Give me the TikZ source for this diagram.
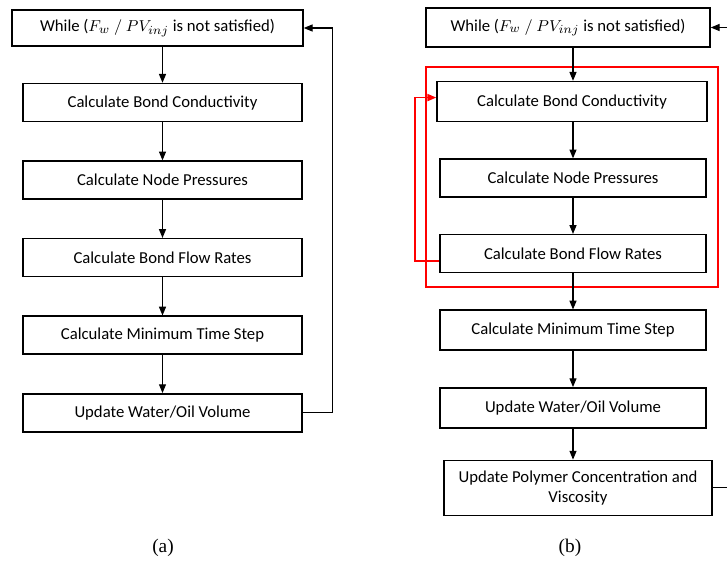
\documentclass[tikz,border=0pt]{standalone}
\usepackage{fontspec}
\setmainfont{Carlito}
\newfontfamily\capfont{Liberation Serif}
\usetikzlibrary{positioning,fit,arrows.meta}

\begin{document}
\begin{tikzpicture}[
    x=0.02cm, y=-0.02cm,
    node distance=0.76cm,
    box/.style={rectangle, draw, line width=0.9pt, minimum width=5.58cm, minimum height=0.76cm, align=center, font=\fontsize{9.5}{11}\selectfont},
    arrow/.style={-{Triangle[length=5pt,width=4pt]}, line width=0.6pt},
    caption/.style={font=\capfont\fontsize{11}{13}\selectfont}
]
    \useasboundingbox (0,0) rectangle (727,565);

    % Left chart (a)
    \node[box, minimum width=5.82cm, minimum height=0.72cm] (whileA) at (157.5,28) {While ($F_w\ /\ PV_{inj}$ is not satisfied)};
    \node[box, below=0.72cm of whileA.south, anchor=north, xshift=0.1cm] (condA) {Calculate Bond Conductivity};
    \node[box, below=of condA] (presA) {Calculate Node Pressures};
    \node[box, below=of presA] (flowA) {Calculate Bond Flow Rates};
    \node[box, below=of flowA] (stepA) {Calculate Minimum Time Step};
    \node[box, below=of stepA] (volA) {Update Water/Oil Volume};
    \node[caption] (capA) at (163,548) {(a)};

    \draw[arrow] (whileA.south -| condA) -- (condA);
    \draw[arrow] (condA) -- (presA);
    \draw[arrow] (presA) -- (flowA);
    \draw[arrow] (flowA) -- (stepA);
    \draw[arrow] (stepA) -- (volA);
    \draw[arrow] (volA.east) -- ++(0.6cm,0) |- (whileA.east);

    % Right chart (b)
    \begin{scope}[node distance=0.72cm]
    \node[box, minimum width=5.68cm, minimum height=0.78cm] (whileB) at (568,27.5) {While ($F_w\ /\ PV_{inj}$ is not satisfied)};
    \node[box, minimum width=5.4cm, minimum height=0.8cm, below=0.66cm of whileB.south, anchor=north, xshift=0.08cm] (condB) {Calculate Bond Conductivity};
    \node[box, minimum width=5.32cm, below=of condB, xshift=0.02cm] (presB) {Calculate Node Pressures};
    \node[box, minimum width=5.32cm, below=of presB] (flowB) {Calculate Bond Flow Rates};
    \node[box, minimum width=5.32cm, minimum height=0.8cm, below=of flowB] (stepB) {Calculate Minimum Time Step};
    \node[box, minimum width=5.32cm, minimum height=0.8cm, below=of stepB] (volB) {Update Water/Oil Volume};
    \node[box, minimum width=5.36cm, minimum height=1.1cm, below=0.62cm of volB, xshift=0.1cm] (polyB) {Update Polymer Concentration and\\Viscosity};
    \end{scope}
    \node[caption] (capB) at (570,548) {(b)};

    % Inner loop
    \node[draw=red, line width=0.9pt, fit=(condB)(flowB), inner xsep=0.2cm, inner ysep=0.27cm] (loopB) {};

    \draw[arrow] (whileB.south -| presB) -- (condB.north -| presB);
    \draw[arrow] (condB.south -| presB) -- (presB);
    \draw[arrow] (presB) -- (flowB);
    \draw[arrow] (flowB) -- (stepB);
    \draw[arrow] (stepB) -- (volB);
    \draw[arrow] (volB.south) -- (volB.south |- polyB.north);
    \draw[arrow, color=red, line width=0.9pt] ([yshift=-0.15cm]flowB.west) -- ++(-0.48cm,0) |- ([yshift=0.08cm]condB.west);
    \draw[arrow] (polyB.east) -- ++(0.6cm,0) |- (whileB.east);
\end{tikzpicture}
\end{document}
